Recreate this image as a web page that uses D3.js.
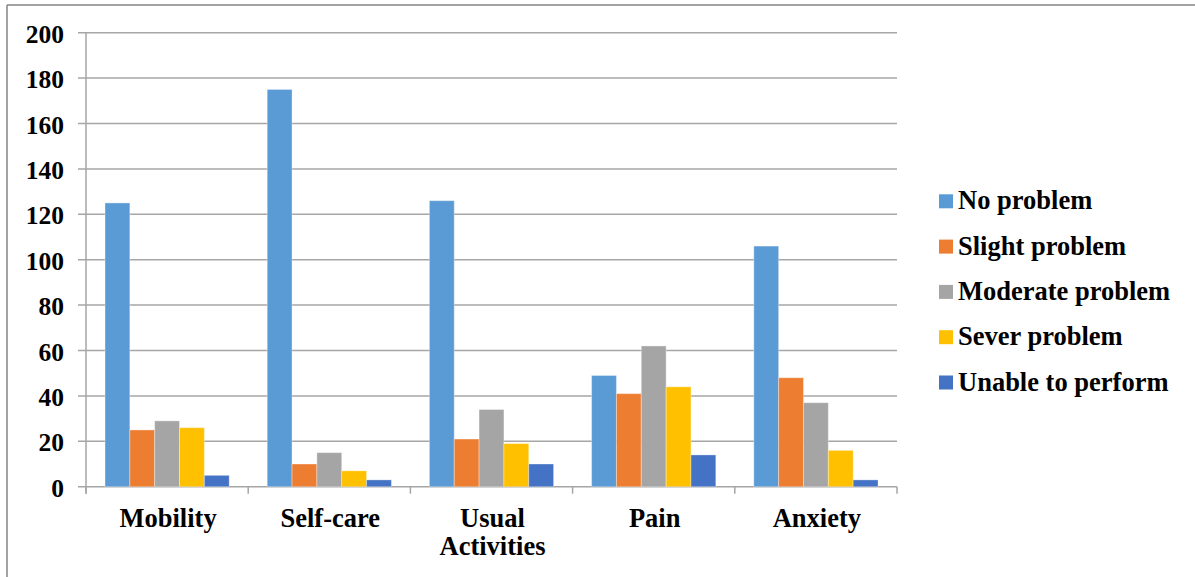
<!DOCTYPE html>
<html>
<head>
<meta charset="utf-8">
<script src="https://cdn.jsdelivr.net/npm/d3@7/dist/d3.min.js"></script>
<style>
  html, body { margin: 0; padding: 0; background: #fff; }
  svg { display: block; }
  text { font-family: "Liberation Serif", "Times New Roman", serif; font-weight: bold; fill: #000; }
</style>
</head>
<body>
<svg id="chart" width="1195" height="577"></svg>
<script>
const categories = ["Mobility", "Self-care", "Usual Activities", "Pain", "Anxiety"];
const categoryLines = [["Mobility"], ["Self-care"], ["Usual", "Activities"], ["Pain"], ["Anxiety"]];
const seriesNames = ["No problem", "Slight problem", "Moderate problem", "Sever problem", "Unable to perform"];
const noProblem     = [125, 175, 126, 49, 106];
const slightProblem = [25, 10, 21, 41, 48];
const moderateProblem = [29, 15, 34, 62, 37];
const severProblem  = [26, 7, 19, 44, 16];
const unableToPerform = [5, 3, 10, 14, 3];
const yTicks = [0, 20, 40, 60, 80, 100, 120, 140, 160, 180, 200];
const colors = ["#5B9BD5", "#ED7D31", "#A5A5A5", "#FFC000", "#4472C4"];

const seriesValues = [noProblem, slightProblem, moderateProblem, severProblem, unableToPerform];

const svg = d3.select("#chart");

// outer frame (top and left edges)
svg.append("line").attr("x1", 7).attr("x2", 1195).attr("y1", 5).attr("y2", 5)
  .attr("stroke", "#858585").attr("stroke-width", 1.5);
svg.append("line").attr("x1", 7).attr("x2", 7).attr("y1", 5).attr("y2", 577)
  .attr("stroke", "#858585").attr("stroke-width", 1.5);

const plotLeft = 86, plotRight = 897, plotTop = 32.7, plotBottom = 486.7;

const x0 = d3.scaleBand().domain(categories).range([plotLeft, plotRight]).paddingInner(0).paddingOuter(0);
const groupPad = 19 / 162.2;
const x1 = d3.scaleBand().domain(seriesNames)
  .range([x0.bandwidth() * groupPad, x0.bandwidth() * (1 - groupPad)]).padding(0);
const y = d3.scaleLinear().domain([0, 200]).range([plotBottom, plotTop]);

// gridlines
svg.append("g").selectAll("line").data(yTicks).join("line")
  .attr("x1", plotLeft - 8).attr("x2", plotRight)
  .attr("y1", d => y(d)).attr("y2", d => y(d))
  .attr("stroke", "#a6a6a6").attr("stroke-width", 1.5);

// y axis line
svg.append("line").attr("x1", plotLeft).attr("x2", plotLeft).attr("y1", plotTop).attr("y2", plotBottom + 7)
  .attr("stroke", "#a6a6a6").attr("stroke-width", 1.5);

// x axis ticks at category boundaries
const boundaries = categories.map(c => x0(c)).concat([x0(categories[categories.length - 1]) + x0.bandwidth()]);
svg.append("g").selectAll("line").data(boundaries).join("line")
  .attr("x1", d => d).attr("x2", d => d).attr("y1", plotBottom).attr("y2", plotBottom + 7)
  .attr("stroke", "#a6a6a6").attr("stroke-width", 1.5);

// y tick labels
svg.append("g").selectAll("text").data(yTicks).join("text")
  .attr("x", 64).attr("y", d => y(d) + 10)
  .attr("text-anchor", "end").attr("font-size", 25.5)
  .text(d => d);

// bars
const groups = svg.append("g").selectAll("g").data(categories).join("g")
  .attr("transform", c => `translate(${x0(c)},0)`);
groups.selectAll("rect")
  .data((c, ci) => seriesNames.map((s, si) => ({ s, si, v: seriesValues[si][ci] })))
  .join("rect")
  .attr("x", d => x1(d.s))
  .attr("width", x1.bandwidth())
  .attr("y", d => y(d.v))
  .attr("height", d => y(0) - y(d.v))
  .attr("fill", d => colors[d.si])
  .attr("stroke", "#ffffff").attr("stroke-opacity", 0.35).attr("stroke-width", 1);

// category labels
const catG = svg.append("g").selectAll("text").data(categories).join("text")
  .attr("text-anchor", "middle").attr("font-size", 26.5)
  .attr("x", c => x0(c) + x0.bandwidth() / 2 + 1)
  .attr("y", 527);
catG.each(function (c, i) {
  const t = d3.select(this);
  categoryLines[i].forEach((line, li) => {
    t.append("tspan").attr("x", x0(c) + x0.bandwidth() / 2 + 1)
      .attr("dy", li === 0 ? 0 : 28).text(line);
  });
});

// legend
const legend = svg.append("g").selectAll("g").data(seriesNames).join("g")
  .attr("transform", (d, i) => `translate(939,${194.3 + i * 45.3})`);
legend.append("rect").attr("width", 14).attr("height", 14)
  .attr("fill", (d, i) => colors[i]);
legend.append("text").attr("x", 19).attr("y", 15).attr("font-size", 26.5).text(d => d);
</script>
</body>
</html>
